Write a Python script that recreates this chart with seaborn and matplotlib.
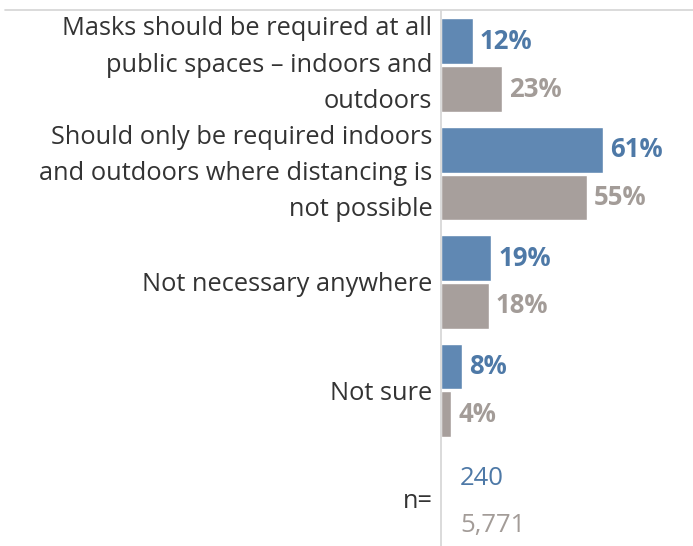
import pandas as pd
import matplotlib.pyplot as plt
import seaborn as sns

categories = [
    "Masks should be required at all\npublic spaces \u2013 indoors and\noutdoors",
    "Should only be required indoors\nand outdoors where distancing is\nnot possible",
    "Not necessary anywhere",
    "Not sure",
]
groups = ["Group", "Total"]
group_pct = [12, 61, 19, 8]
total_pct = [23, 55, 18, 4]
sample_sizes = ["240", "5,771"]

BLUE = "#6088b3"
GRAY = "#a79f9c"
BLUE_TXT = "#4e79a7"
GRAY_TXT = "#a39c98"

df = pd.DataFrame({
    "answer": categories * 2,
    "group": [groups[0]] * 4 + [groups[1]] * 4,
    "pct": group_pct + total_pct,
})

sns.set_style("white")
plt.rcParams["font.family"] = ["Open Sans", "DejaVu Sans"]

fig = plt.figure(figsize=(6.93, 5.46), dpi=100)
ax = fig.add_axes([0.636, -0.0128, 0.364, 0.9927])

sns.barplot(data=df, y="answer", x="pct", hue="group", order=categories,
            hue_order=groups, palette=[BLUE, GRAY], width=0.88, gap=0.04,
            saturation=1, legend=False, ax=ax)

for cont, col in zip(ax.containers, [BLUE_TXT, GRAY_TXT]):
    ax.bar_label(cont, fmt="%.0f%%", padding=5, color=col,
                 fontsize=18.5, fontweight="bold")

# n= row
ax.text(7.2, 4 - 0.19, sample_sizes[0], color=BLUE_TXT, fontsize=18.5, va="center")
ax.text(7.2, 4 + 0.25, sample_sizes[1], color=GRAY_TXT, fontsize=18.5, va="center")

ax.set_xlim(0, 95)
ax.set_ylim(4.5, -0.5)
ax.set_yticks(range(5))
ax.set_yticklabels(categories + ["n="], fontsize=18.3, color="#333333",
                   linespacing=1.6)
# multi-line labels look better centred on their box
for t in ax.get_yticklabels():
    if "\n" in t.get_text():
        t.set_va("center")
ax.tick_params(axis="y", length=0, pad=6)
ax.set_xticks([])
ax.set_xlabel("")
ax.set_ylabel("")
for s in ["top", "right", "bottom"]:
    ax.spines[s].set_visible(False)
ax.spines["left"].set_color("#d4d4d4")
ax.spines["left"].set_linewidth(1.2)

fig.add_artist(plt.Line2D([0.007, 1.0], [0.982, 0.982], color="#d4d4d4",
                          linewidth=1.2, transform=fig.transFigure))

fig.savefig("out.png", dpi=100)
